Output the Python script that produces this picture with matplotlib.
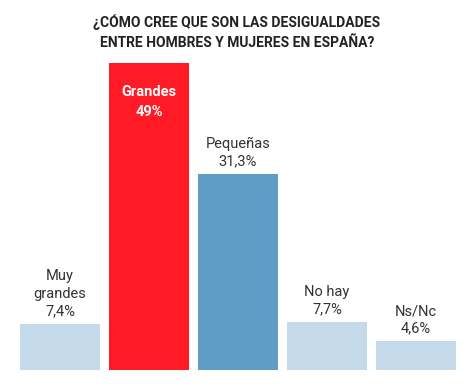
import matplotlib
matplotlib.use('Agg')
import matplotlib.pyplot as plt

categorias = ['Muy\ngrandes', 'Grandes', 'Pequeñas', 'No hay', 'Ns/Nc']
valores = [7.4, 49, 31.3, 7.7, 4.6]
etiquetas = ['7,4%', '49%', '31,3%', '7,7%', '4,6%']
colores = ['#c4d9ea', '#ff1a25', '#5f9cc6', '#c4d9ea', '#c4d9ea']

plt.rcParams['font.family'] = ['Roboto', 'DejaVu Sans']

fig = plt.figure(figsize=(4.74, 3.87), dpi=100)
ax = fig.add_axes([20/474, 17/387, 436/474, 307/387])
x = range(len(valores))
ax.bar(x, valores, width=0.9, color=colores)
ax.set_xlim(-0.45, 4.45)
ax.set_ylim(0, 49)
ax.axis('off')

for i, (cat, v, et) in enumerate(zip(categorias, valores, etiquetas)):
    if i == 1:
        # etiqueta dentro de la barra roja
        ax.annotate(cat + '\n' + et, (i, v), xytext=(0, -16), textcoords='offset points',
                    ha='center', va='top', color='white', fontsize=10.5,
                    fontweight='bold', linespacing=1.55)
    else:
        ax.annotate(cat + '\n' + et, (i, v), xytext=(0, 4), textcoords='offset points',
                    ha='center', va='bottom', color='#333333', fontsize=10.5,
                    linespacing=1.3)

fig.text(0.5, 1 - 32/387, '¿CÓMO CREE QUE SON LAS DESIGUALDADES\nENTRE HOMBRES Y MUJERES EN ESPAÑA?',
         ha='center', va='center', fontsize=10, fontweight='bold', color='#222222',
         linespacing=1.5)

fig.savefig('out.png', dpi=100)
